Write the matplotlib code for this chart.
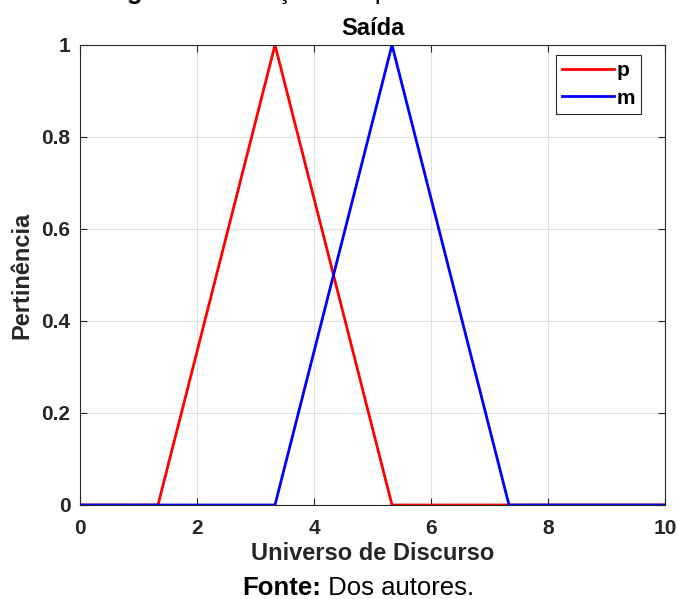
import matplotlib
matplotlib.use("Agg")
import matplotlib.pyplot as plt

plt.rcParams['font.family'] = ['Liberation Sans', 'DejaVu Sans']

p_x = [0, 1.3333, 3.3333, 5.3333, 10]
p_y = [0, 0, 1, 0, 0]
m_x = [0, 3.3333, 5.3333, 7.3333, 10]
m_y = [0, 0, 1, 0, 0]
x_ticks = [0, 2, 4, 6, 8, 10]
y_ticks = [0, 0.2, 0.4, 0.6, 0.8, 1]
y_ticklabels = ['0', '0.2', '0.4', '0.6', '0.8', '1']

W, H = 678, 599
fig = plt.figure(figsize=(W/100, H/100), dpi=100)
ax = fig.add_axes([80/W, 1-505/H, 585/W, 460/H])

ax.plot(p_x, p_y, color='#ff0000', lw=2, label='p')
ax.plot(m_x, m_y, color='#0000ff', lw=2, label='m')

ax.set_xlim(0, 10)
ax.set_ylim(0, 1)
ax.set_xticks(x_ticks)
ax.set_yticks(y_ticks)
ax.set_yticklabels(y_ticklabels)
ax.grid(True, color='#e0e0e0', lw=0.8)
ax.set_axisbelow(True)
ax.tick_params(direction='in', top=True, right=True, length=5, width=0.8,
               labelsize=15, colors='#262626')
ax.tick_params(axis='x', pad=10)
ax.tick_params(axis='y', pad=7)
for lbl in ax.get_xticklabels() + ax.get_yticklabels():
    lbl.set_fontweight('bold')
for s in ax.spines.values():
    s.set_color('#262626')
    s.set_linewidth(0.8)

ax.set_title('Saída', fontsize=17, fontweight='bold', pad=7)
ax.set_xlabel('Universo de Discurso', fontsize=17, fontweight='bold', color='#262626', labelpad=3)
ax.set_ylabel('Pertinência', fontsize=17, fontweight='bold', color='#262626', labelpad=6)

leg = ax.legend(loc='upper right', bbox_to_anchor=((641-80)/585, 1-(55-45)/460),
                prop={'weight': 'bold', 'size': 15},
                handlelength=2.5, handletextpad=0.1, borderaxespad=0,
                fancybox=False, edgecolor='#262626', framealpha=1,
                borderpad=0.3, labelspacing=0.4)
leg.get_frame().set_linewidth(0.8)

fig.canvas.draw()
r = fig.canvas.get_renderer()

def mixed(x_left, y_base, bold_part, normal_part, size):
    t = fig.text(x_left/W, 1-y_base/H, bold_part, fontsize=size, fontweight='bold',
                 ha='left', va='baseline')
    bb = t.get_window_extent(renderer=r)
    fig.text(bb.x1/W, 1-y_base/H, normal_part, fontsize=size, ha='left', va='baseline')

mixed(242, 595, 'Fonte:', ' Dos autores.', 18.5)
mixed(104, -1.5, 'Figura 8 –', ' Funções de pertinência da variável de saída', 18.5)

fig.savefig('out.png', dpi=100)
